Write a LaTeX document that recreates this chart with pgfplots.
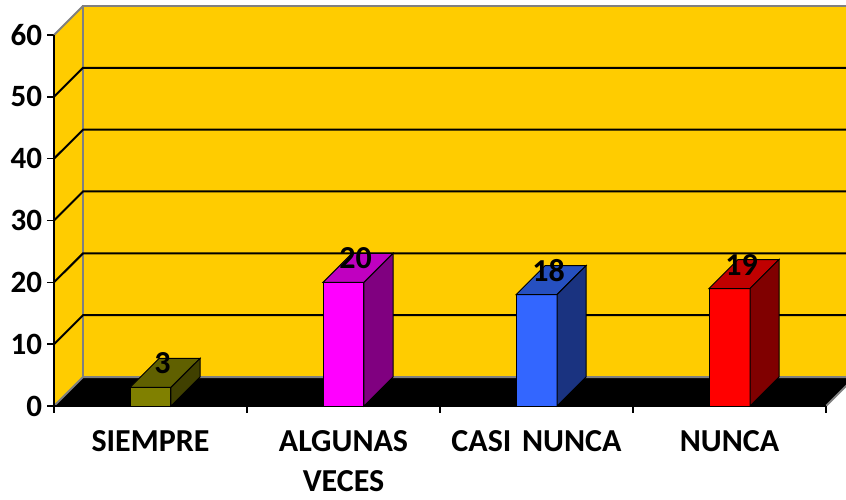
\documentclass[border=0pt]{standalone}
\usepackage{pgfplots}
\pgfplotsset{compat=1.18}
\usepackage{pgfplotstable}
\usepackage{fontspec}
\setmainfont{Carlito}

\definecolor{pared}{HTML}{FFCC00}
\definecolor{borde}{HTML}{808080}
% front / top / side of each bar
\definecolor{f0}{HTML}{808000}\definecolor{t0}{HTML}{606000}\definecolor{s0}{HTML}{404000}
\definecolor{f1}{HTML}{FF00FF}\definecolor{t1}{HTML}{C000C0}\definecolor{s1}{HTML}{800080}
\definecolor{f2}{HTML}{3366FF}\definecolor{t2}{HTML}{2650C0}\definecolor{s2}{HTML}{1A3380}
\definecolor{f3}{HTML}{FF0000}\definecolor{t3}{HTML}{C00000}\definecolor{s3}{HTML}{800000}

\pgfplotstableread{
x   v
0.5 3
1.5 20
2.5 18
3.5 19
}\datos

\def\dx{0.1503}  % depth, x units
\def\dy{4.69}    % depth, y units
\def\hw{0.1062}  % half bar width

\begin{document}
\begin{tikzpicture}
\begin{axis}[
    x=96.5pt, y=3.0917pt,
    xmin=0, xmax=4, ymin=0, ymax=60,
    clip=false,
    axis line style={draw=none},
    ytick={0,10,...,60},
    ytick pos=left,
    tick align=outside,
    major tick length=3.5pt,
    y tick style={black, line width=0.75pt},
    xtick={0.5,1.5,2.5,3.5},
    xticklabels={SIEMPRE, ALGUNAS VECES, CASI NUNCA, NUNCA},
    xtick pos=bottom,
    x tick style={draw=none},
    /pgf/number format/assume math mode=true,
    yticklabel style={font=\bfseries\fontsize{15.5}{18}\selectfont, inner sep=0pt, xshift=-2.25pt},
    xticklabel style={font=\bfseries\fontsize{16}{20}\selectfont, text width=96pt,
        align=center, inner sep=0pt, anchor=north, yshift=-8.5pt},
  ]
  % side wall
  \addplot[fill=pared, draw=none] coordinates {(0,0) (0,60) (0.1503,64.69) (0.1503,4.69)} -- cycle;
  % back wall
  \addplot[fill=pared, draw=borde, line width=1pt] coordinates {(0.1503,4.69) (0.1503,64.69) (4.4,64.69) (4.4,4.69)} -- cycle;
  % grid on walls
  \pgfplotsforeachungrouped \g in {10,20,30,40,50}{%
    \pgfmathsetmacro\gb{\g+\dy}
    \edef\temp{\noexpand\addplot[black, line width=1pt] coordinates {(0,\g) (\dx,\gb) (4.4,\gb)};}
    \temp
  }
  \addplot[borde, line width=1pt] coordinates {(0,60) (0.1503,64.69)};
  % floor
  \addplot[fill=black, draw=none] coordinates {(0,0) (4,0) (4.1503,4.69) (0.1503,4.69)} -- cycle;
  \addplot[borde, line width=1pt] coordinates {(0,0) (0.1503,4.69) (4.4,4.69)};
  \addplot[borde, line width=1pt] coordinates {(4,0) (4.1503,4.69)};
  % axis lines and x ticks
  \draw[black, line width=0.75pt] (axis cs:0,60) -- (axis cs:0,0) -- (axis cs:4,0);
  \pgfplotsinvokeforeach{0,1,2,3,4}{\draw[black, line width=0.75pt] (axis cs:#1,0) -- ++(0,-3.5pt);}
  % bars
  \pgfplotsforeachungrouped \i in {0,1,2,3}{%
    \pgfplotstablegetelem{\i}{x}\of\datos \let\xc\pgfplotsretval
    \pgfplotstablegetelem{\i}{v}\of\datos \let\vv\pgfplotsretval
    \pgfmathsetmacro\xa{\xc-\hw}
    \pgfmathsetmacro\xb{\xc+\hw}
    \pgfmathsetmacro\xaa{\xa+\dx}
    \pgfmathsetmacro\xbb{\xb+\dx}
    \pgfmathsetmacro\vt{\vv+\dy}
    \edef\temp{%
      \noexpand\addplot[fill=f\i, draw=black, line width=0.5pt] coordinates {(\xa,0) (\xb,0) (\xb,\vv) (\xa,\vv)} -- cycle;
      \noexpand\addplot[fill=t\i, draw=black, line width=0.5pt] coordinates {(\xa,\vv) (\xb,\vv) (\xbb,\vt) (\xaa,\vt)} -- cycle;
      \noexpand\addplot[fill=s\i, draw=black, line width=0.5pt] coordinates {(\xb,0) (\xbb,\dy) (\xbb,\vt) (\xb,\vv)} -- cycle;
    }\temp
  }
  % value labels
  \addplot[draw=none, mark=none, nodes near coords,
    every node near coord/.style={font=\bfseries\fontsize{16}{18}\selectfont, anchor=center,
      inner sep=0pt, xshift=6pt, yshift=12pt}]
    table[x=x, y=v] {\datos};
\end{axis}
\pgfresetboundingbox
\useasboundingbox (-27pt,-46.5pt) rectangle (396pt,203pt);
\end{tikzpicture}
\end{document}
